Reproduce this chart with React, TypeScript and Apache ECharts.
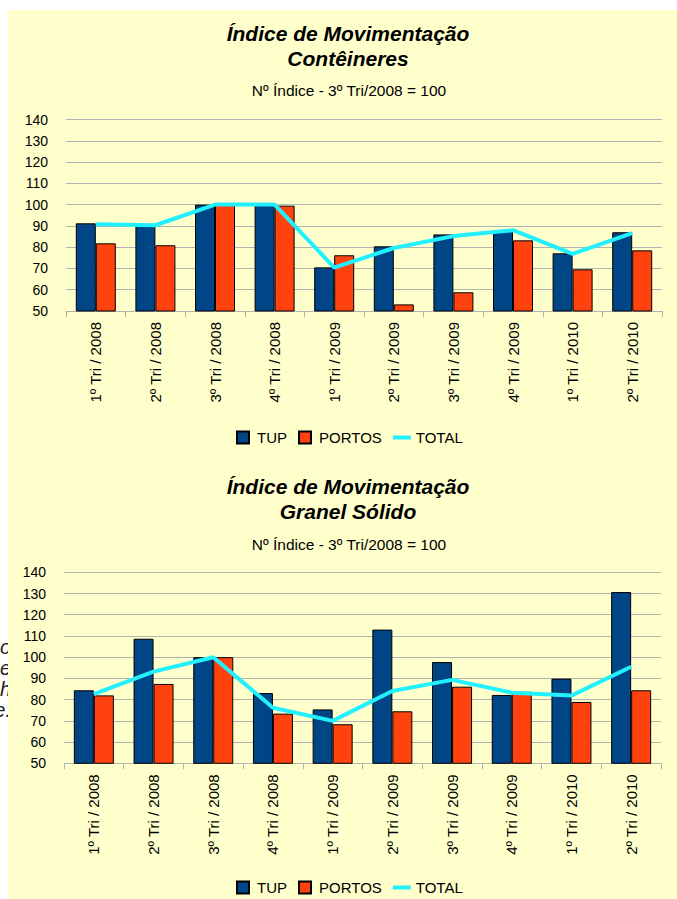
import React, { useEffect, useRef } from 'react';
import * as echarts from 'echarts';

const categories = [
  '1º Tri / 2008', '2º Tri / 2008', '3º Tri / 2008', '4º Tri / 2008',
  '1º Tri / 2009', '2º Tri / 2009', '3º Tri / 2009', '4º Tri / 2009',
  '1º Tri / 2010', '2º Tri / 2010',
];

const conteinerTup = [91.2, 90, 100, 100, 70.5, 80.4, 86, 87.9, 77.1, 87];
const conteinerPortos = [81.8, 80.9, 100, 99.5, 76.2, 53.1, 58.8, 83.2, 69.6, 78.5];
const conteinerTotal = [90.8, 90.3, 100, 100, 70.4, 79.6, 85.2, 88, 76.8, 86.6];

const granelTup = [84.4, 108.7, 100, 83.1, 75.4, 113, 97.7, 82.2, 89.9, 130.7];
const granelPortos = [82, 87.4, 100, 73.4, 68.4, 74.5, 86.1, 83.7, 78.9, 84.4];
const granelTotal = [82.6, 93.2, 100, 76.2, 70, 84.1, 89.3, 83.3, 81.9, 95.5];

const yMin = 50;
const yMax = 140;
const yStep = 10;

const titleLine1 = 'Índice de Movimentação';
const titleTop = 'Contêineres';
const titleBottom = 'Granel Sólido';
const subtitle = 'Nº Índice - 3º Tri/2008 = 100';
const seriesNames = ['TUP', 'PORTOS', 'TOTAL'];
const sideFragments = ['o', 'e', 'h', 'e.'];

const FONT = '"Liberation Sans", Arial, sans-serif';
const BLUE = '#004586';
const RED = '#FF420E';
const CYAN = '#22F0FF';
const GRID = '#B3B3B3';
const BG = '#FFFFCC';
const SQUARE = 'path://M0,0H12V12H0Z';
const DASH = 'path://M0,0H18V4H0Z';

function makeAxes(gridIndex: number) {
  return {
    x: {
      type: 'category',
      gridIndex,
      data: categories,
      boundaryGap: true,
      axisLine: { lineStyle: { color: GRID, width: 1 } },
      axisTick: { show: true, length: 6, interval: 0, lineStyle: { color: GRID } },
      axisLabel: {
        interval: 0,
        rotate: 90,
        margin: 11,
        fontSize: 15,
        fontFamily: FONT,
        color: '#000',
      },
      splitLine: { show: false },
    },
    y: {
      type: 'value',
      gridIndex,
      min: yMin,
      max: yMax,
      interval: yStep,
      axisLine: { show: false },
      axisTick: { show: false },
      axisLabel: { fontSize: 14, fontFamily: FONT, color: '#000', margin: 18 },
      splitLine: { lineStyle: { color: GRID, width: 1 } },
    },
  };
}

function makeSeries(idx: number, tup: number[], portos: number[], total: number[]) {
  return [
    {
      name: seriesNames[0],
      type: 'bar',
      xAxisIndex: idx,
      yAxisIndex: idx,
      data: tup,
      barWidth: 20,
      barGap: '0%',
      itemStyle: { color: BLUE, borderColor: '#000', borderWidth: 1 },
    },
    {
      name: seriesNames[1],
      type: 'bar',
      xAxisIndex: idx,
      yAxisIndex: idx,
      data: portos,
      barWidth: 20,
      barGap: '0%',
      itemStyle: { color: RED, borderColor: '#000', borderWidth: 1 },
    },
    {
      name: seriesNames[2],
      type: 'line',
      xAxisIndex: idx,
      yAxisIndex: idx,
      data: total,
      symbol: 'none',
      showSymbol: false,
      z: 5,
      lineStyle: { color: CYAN, width: 4 },
      itemStyle: { color: CYAN },
    },
  ];
}

function makeLegend(top: number) {
  return {
    data: [
      { name: seriesNames[0], icon: SQUARE },
      { name: seriesNames[1], icon: SQUARE },
      { name: seriesNames[2], icon: DASH, itemStyle: { color: CYAN, borderWidth: 0 } },
    ],
    left: 231,
    top,
    orient: 'horizontal',
    itemWidth: 18,
    itemHeight: 12,
    itemGap: 11,
    selectedMode: false,
    textStyle: { fontSize: 15, fontFamily: FONT, color: '#000' },
  };
}

function titleText(text: string, x: number, y: number, size: number, bold: boolean) {
  return {
    type: 'text',
    x,
    y,
    silent: true,
    style: {
      text,
      fontSize: size,
      fontFamily: FONT,
      fontWeight: bold ? 'bold' : 'normal',
      fontStyle: bold ? 'italic' : 'normal',
      fill: '#000',
      align: 'center',
      verticalAlign: 'middle',
      textAlign: 'center',
      textVerticalAlign: 'middle',
    },
  };
}

export default function App() {
  const ref = useRef<HTMLDivElement>(null);

  useEffect(() => {
    if (!ref.current) return;
    const chart = echarts.init(ref.current, null, { renderer: 'svg' });
    const a0 = makeAxes(0);
    const a1 = makeAxes(1);
    const fragments = sideFragments.map((t, i) => ({
      type: 'text',
      x: 11,
      y: 647 + i * 21,
      z: -20,
      silent: true,
      style: {
        text: t,
        fontSize: 20,
        fontFamily: FONT,
        fontStyle: 'italic',
        fill: '#222',
        align: 'right',
        verticalAlign: 'middle',
        textAlign: 'right',
        textVerticalAlign: 'middle',
      },
    }));
    const option: any = {
      animation: false,
      backgroundColor: '#FFFFFF',
      graphic: [
        ...fragments,
        {
          type: 'rect',
          z: -10,
          silent: true,
          shape: { x: 8, y: 10, width: 669, height: 889 },
          style: { fill: BG },
        },
        titleText(titleLine1, 348, 33, 21, true),
        titleText(titleTop, 348, 58, 21, true),
        titleText(subtitle, 349, 90, 15.5, false),
        titleText(titleLine1, 348, 486, 21, true),
        titleText(titleBottom, 348, 511, 21, true),
        titleText(subtitle, 349, 544, 15.5, false),
      ],
      grid: [
        { left: 66, top: 119.5, width: 596, height: 191.5, containLabel: false },
        { left: 64, top: 572.3, width: 597, height: 191, containLabel: false },
      ],
      xAxis: [a0.x, a1.x],
      yAxis: [a0.y, a1.y],
      legend: [makeLegend(425), makeLegend(875)],
      series: [
        ...makeSeries(0, conteinerTup, conteinerPortos, conteinerTotal),
        ...makeSeries(1, granelTup, granelPortos, granelTotal),
      ],
    };
    chart.setOption(option);
    return () => chart.dispose();
  }, []);

  return (
    <div
      ref={ref}
      style={{ position: 'absolute', left: 0, top: 0, width: 677, height: 899 }}
    />
  );
}
